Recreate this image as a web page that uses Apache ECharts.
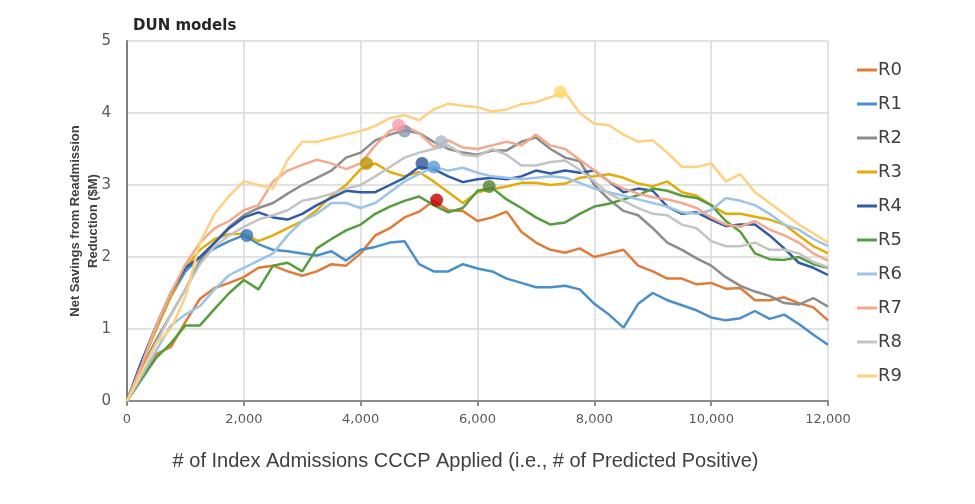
<!DOCTYPE html>
<html><head><meta charset="utf-8">
<script src="https://cdn.jsdelivr.net/npm/echarts@6/dist/echarts.min.js"></script>
<style>html,body{margin:0;padding:0;background:#fff}#c{width:975px;height:504px}</style>
</head><body><div id="c"></div>
<script>
const xs = [0,250,500,750,1000,1250,1500,1750,2000,2250,2500,2750,3000,3250,3500,3750,4000,4250,4500,4750,5000,5250,5500,5750,6000,6250,6500,6750,7000,7250,7500,7750,8000,8250,8500,8750,9000,9250,9500,9750,10000,10250,10500,10750,11000,11250,11500,11750,12000];
const names = ['R0','R1','R2','R3','R4','R5','R6','R7','R8','R9'];
const R0 = [0,0.35,0.65,0.75,1.1,1.42,1.57,1.64,1.72,1.85,1.88,1.8,1.74,1.8,1.9,1.88,2.05,2.3,2.4,2.55,2.63,2.78,2.65,2.64,2.5,2.55,2.63,2.35,2.2,2.1,2.06,2.12,2.0,2.05,2.1,1.88,1.8,1.7,1.7,1.62,1.64,1.56,1.57,1.4,1.4,1.44,1.36,1.3,1.12];
const R1 = [0,0.55,1.0,1.45,1.8,2.0,2.12,2.22,2.3,2.18,2.1,2.08,2.05,2.02,2.08,1.95,2.1,2.14,2.2,2.22,1.9,1.8,1.8,1.9,1.84,1.8,1.7,1.64,1.58,1.58,1.6,1.55,1.35,1.2,1.02,1.35,1.5,1.4,1.33,1.26,1.16,1.12,1.15,1.25,1.14,1.2,1.07,0.92,0.78];
const R2 = [0,0.45,0.85,1.2,1.55,1.95,2.2,2.42,2.58,2.68,2.75,2.88,3.0,3.1,3.2,3.38,3.45,3.62,3.7,3.76,3.72,3.6,3.5,3.45,3.42,3.48,3.48,3.6,3.66,3.5,3.38,3.33,3.0,2.8,2.64,2.58,2.4,2.2,2.1,1.98,1.88,1.72,1.6,1.52,1.46,1.36,1.34,1.43,1.31];
const R3 = [0,0.5,1.0,1.45,1.85,2.1,2.25,2.32,2.32,2.22,2.3,2.4,2.5,2.65,2.85,3.0,3.22,3.3,3.18,3.12,3.18,3.05,2.9,2.75,2.9,2.94,2.98,3.03,3.03,3.0,3.02,3.1,3.12,3.15,3.1,3.02,2.98,3.05,2.9,2.85,2.72,2.6,2.6,2.56,2.52,2.45,2.3,2.15,2.05];
const R4 = [0,0.55,1.05,1.5,1.85,2.0,2.2,2.4,2.55,2.62,2.55,2.52,2.6,2.72,2.82,2.92,2.9,2.9,3.0,3.1,3.25,3.22,3.12,3.04,3.08,3.1,3.08,3.12,3.2,3.16,3.2,3.17,3.2,3.05,2.9,2.95,2.92,2.7,2.6,2.62,2.52,2.43,2.45,2.45,2.3,2.12,1.92,1.85,1.75];
const R5 = [0,0.3,0.6,0.8,1.05,1.05,1.28,1.5,1.68,1.55,1.88,1.92,1.8,2.12,2.25,2.37,2.45,2.6,2.7,2.78,2.84,2.72,2.62,2.68,2.92,2.96,2.8,2.68,2.55,2.45,2.48,2.6,2.7,2.74,2.8,2.86,2.95,2.92,2.85,2.82,2.72,2.5,2.35,2.05,1.97,1.96,2.0,1.9,1.85];
const R6 = [0,0.35,0.7,1.05,1.2,1.32,1.55,1.75,1.85,1.95,2.05,2.3,2.5,2.6,2.75,2.75,2.68,2.75,2.9,3.05,3.15,3.25,3.2,3.24,3.17,3.12,3.1,3.08,3.1,3.12,3.1,3.03,2.95,2.9,2.85,2.8,2.75,2.7,2.62,2.6,2.65,2.82,2.78,2.72,2.6,2.45,2.38,2.25,2.15];
const R7 = [0,0.5,1.05,1.5,1.9,2.2,2.4,2.5,2.65,2.72,3.05,3.2,3.28,3.35,3.3,3.22,3.3,3.55,3.75,3.82,3.72,3.53,3.62,3.52,3.5,3.55,3.6,3.55,3.7,3.55,3.5,3.35,3.2,3.05,2.95,2.88,2.83,2.8,2.75,2.68,2.55,2.45,2.42,2.5,2.38,2.3,2.2,2.05,1.95];
const R8 = [0,0.4,0.8,1.2,1.55,1.9,2.15,2.3,2.42,2.52,2.58,2.65,2.78,2.82,2.88,2.95,3.0,3.12,3.25,3.38,3.45,3.5,3.55,3.42,3.4,3.5,3.42,3.27,3.27,3.32,3.34,3.21,3.05,2.88,2.78,2.68,2.6,2.58,2.45,2.4,2.22,2.15,2.15,2.2,2.1,2.1,2.05,1.93,1.86];
const R9 = [0,0.4,0.8,1.0,1.45,2.2,2.6,2.85,3.05,3.0,2.95,3.35,3.6,3.6,3.65,3.7,3.75,3.82,3.93,3.97,3.9,4.05,4.13,4.1,4.08,4.02,4.05,4.12,4.15,4.22,4.28,4.0,3.85,3.83,3.7,3.6,3.62,3.45,3.25,3.25,3.3,3.05,3.15,2.9,2.75,2.6,2.45,2.33,2.2];
const peakX = [5300,2050,4750,4100,5050,6200,5250,4650,5380,7420];
const peakY = [2.79,2.3,3.75,3.3,3.3,2.98,3.25,3.83,3.6,4.29];
const xTicks = [0,2000,4000,6000,8000,10000,12000];
const yTicks = [0,1,2,3,4,5];

const lineColors = ['#E07B39','#4A8FC9','#8C8C8C','#E3AC0A','#2F5BA8','#559E3E','#9CC3E8','#F4A98C','#C4C4C4','#FFD17F'];
const peakColors = ['#C00000','#2E75B6','#8497B0','#BF9000','#2F5597','#548235','#5B9BD5','#FF99A6','#ADB9CA','#FFD966'];
const all = [R0,R1,R2,R3,R4,R5,R6,R7,R8,R9];

const series = all.map((arr,i)=>({
  name: names[i], type:'line', showSymbol:false, symbol:'none',
  data: xs.map((x,j)=>[x,arr[j]]),
  lineStyle:{width:2.5,color:lineColors[i]}, itemStyle:{color:lineColors[i]},
  z: 2+i, animation:false
}));
series.push({
  type:'scatter', symbolSize:13, z:20, animation:false,
  data: peakX.map((x,i)=>({value:[x,peakY[i]], itemStyle:{color:peakColors[i]}}))
});

const chart = echarts.init(document.getElementById('c'));
chart.setOption({
  animation:false,
  backgroundColor:'#fff',
  title:{text:'DUN models', left:128, top:14, textStyle:{fontFamily:'DejaVu Sans', fontSize:15, fontWeight:'bold', color:'#262626'}},
  grid:{left:127, right:147, top:41, bottom:103},
  legend:{
    data:names, orient:'vertical', left:852, top:55, itemGap:14,
    icon:'rect', itemWidth:20, itemHeight:3,
    textStyle:{fontFamily:'DejaVu Sans', fontSize:18, color:'#404040', lineHeight:20, padding:[0,0,0,-4]}
  },
  xAxis:{
    type:'value', min:xTicks[0], max:xTicks[xTicks.length-1], interval:2000,
    axisLine:{lineStyle:{color:'#8C8C8C', width:2}},
    axisTick:{show:true, length:5, lineStyle:{color:'#8C8C8C', width:2}},
    splitLine:{show:true, lineStyle:{color:'#D9D9D9', width:1.5}},
    axisLabel:{fontFamily:'DejaVu Sans', fontSize:13, color:'#595959', margin:12,
      formatter:v=>v.toLocaleString('en-US')},
    name:'# of Index Admissions CCCP Applied (i.e., # of Predicted Positive)',
    nameLocation:'middle', nameGap:50,
    nameTextStyle:{fontFamily:'Liberation Sans', fontSize:20, color:'#404040', padding:[0,24,0,0]}
  },
  yAxis:{
    type:'value', min:yTicks[0], max:yTicks[yTicks.length-1], interval:1,
    axisLine:{show:true, lineStyle:{color:'#7F7F7F', width:2}},
    axisTick:{show:false},
    splitLine:{show:true, lineStyle:{color:'#D9D9D9', width:1.5}},
    axisLabel:{fontFamily:'DejaVu Sans', fontSize:15, color:'#595959', margin:16}
  },
  graphic:[{
    type:'text', x:84, y:221, rotation:Math.PI/2,
    style:{text:'Net Savings from Readmission\nReduction ($M)', fontFamily:'Liberation Sans', fontSize:13, fontWeight:'bold',
      fill:'#404040', align:'center', verticalAlign:'middle', lineHeight:18}
  }],
  series: series
});
</script></body></html>
